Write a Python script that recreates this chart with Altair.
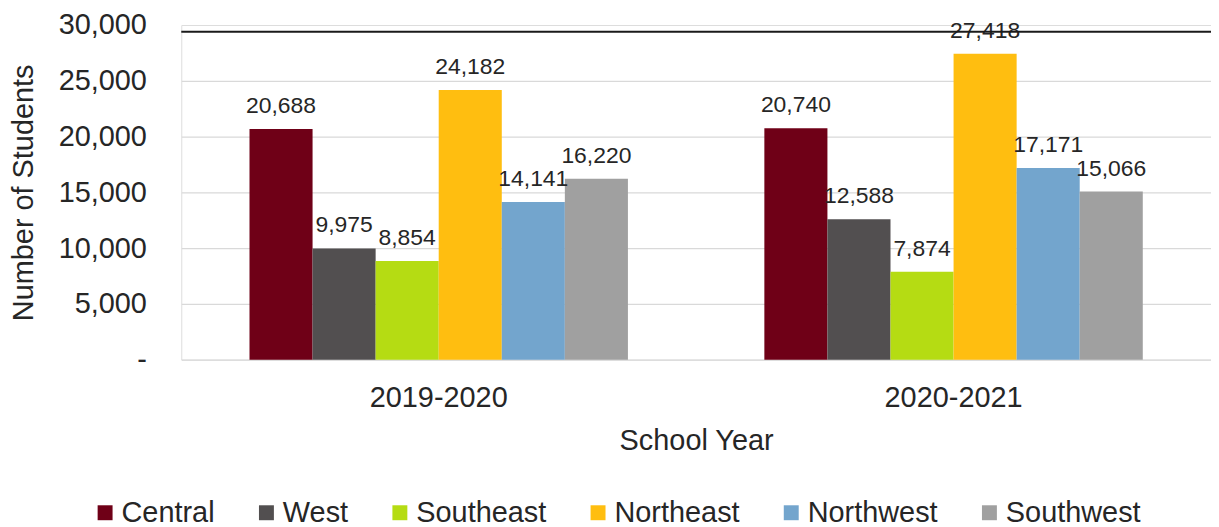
import altair as alt
import pandas as pd

years = ["2019-2020", "2020-2021"]
regions = ["Central", "West", "Southeast", "Northeast", "Northwest", "Southwest"]
colors = ["#6F0017", "#524F50", "#B5DC13", "#FFBE10", "#73A5CD", "#A0A0A0"]
values_2019 = [20688, 9975, 8854, 24182, 14141, 16220]
values_2020 = [20740, 12588, 7874, 27418, 17171, 15066]
y_ticks = [0, 5000, 10000, 15000, 20000, 25000, 30000]
top_rule_value = [29400]

rows = []
for r, v in zip(regions, values_2019):
    rows.append({"year": years[0], "region": r, "students": v})
for r, v in zip(regions, values_2020):
    rows.append({"year": years[1], "region": r, "students": v})
df = pd.DataFrame(rows)
rule_df = pd.DataFrame({"y": top_rule_value})

FONT = "Liberation Sans"
TXT = "#262626"

x_enc = alt.X(
    "year:N",
    sort=years,
    scale=alt.Scale(paddingInner=0.265, paddingOuter=0.1325),
    axis=alt.Axis(
        title="School Year",
        labelAngle=0,
        labelFontSize=29,
        labelPadding=24,
        labelColor=TXT,
        titleFontSize=29,
        titleFontWeight="normal",
        titleColor=TXT,
        titleY=90,
        titleBaseline="alphabetic",
        domain=False,
        ticks=False,
    ),
)
xoff = alt.XOffset("region:N", sort=regions, scale=alt.Scale(paddingInner=0, paddingOuter=0))
y_enc = alt.Y(
    "students:Q",
    scale=alt.Scale(domain=[0, 30000], nice=False),
    axis=alt.Axis(
        title="Number of Students",
        values=y_ticks,
        labelExpr="datum.value == 0 ? '-\u00a0\u00a0' : format(datum.value, ',')",
        labelFontSize=29,
        labelPadding=35,
        labelColor=TXT,
        titleFontSize=29,
        titleFontWeight="normal",
        titleColor=TXT,
        titleAngle=-90,
        titleX=-158,
        titleY=168,
        titleAlign="center",
        titleBaseline="middle",
        domain=False,
        ticks=False,
        grid=True,
        gridColor=alt.condition("datum.value == 30000", alt.value("transparent"), alt.value("#D9D9D9")),
        gridWidth=1.2,
    ),
)

bars = alt.Chart(df).mark_bar().encode(
    x=x_enc,
    xOffset=xoff,
    y=y_enc,
    color=alt.Color(
        "region:N",
        sort=regions,
        scale=alt.Scale(domain=regions, range=colors),
        legend=alt.Legend(
            title=None,
            orient="none",
            direction="horizontal",
            columns=6,
            legendX=-91,
            legendY=475,
            symbolType="square",
            symbolSize=225,
            symbolStrokeWidth=0,
            labelFontSize=29,
            labelFont=FONT,
            labelColor=TXT,
            labelOffset=2,
            columnPadding=37,
            padding=0,
        ),
    ),
)

labels = alt.Chart(df).mark_text(
    baseline="alphabetic", dy=-16, fontSize=23, font=FONT, color=TXT
).encode(
    x=alt.X("year:N", sort=years),
    xOffset=alt.XOffset("region:N", sort=regions),
    y=alt.Y("students:Q"),
    text=alt.Text("students:Q", format=","),
)

top_rule = alt.Chart(rule_df).mark_rule(color="#1a1a1a", strokeWidth=2).encode(
    y=alt.Y("y:Q")
)

chart = (
    alt.layer(bars, labels, top_rule)
    .properties(
        width=1034,
        height=336,
        autosize=alt.AutoSizeParams(type="none"),
        padding={"left": 174, "top": 16, "right": 0, "bottom": 175},
    )
    .configure_view(stroke=None)
    .configure(font=FONT)
)

chart.save("out.html", embed_options={"renderer": "svg", "actions": False})
